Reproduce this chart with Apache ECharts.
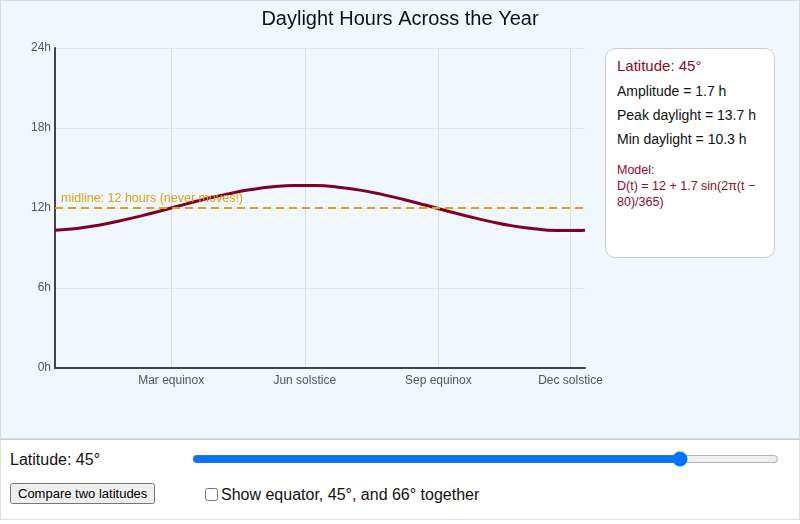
<!DOCTYPE html>
<html>
<head>
<meta charset="utf-8">
<script src="https://cdn.jsdelivr.net/npm/echarts@6/dist/echarts.min.js"></script>
<style>
    body { margin: 0; font-family: "Liberation Sans", Arial, sans-serif; background: #fff; }
    #box { position: relative; width: 800px; height: 439px; box-sizing: border-box; border: 1px solid #d6dbe2; background: #f0f7ff; }
    #chart { position: absolute; left: 0; top: 0; width: 798px; height: 437px; }
    #panel { position: absolute; left: 604px; top: 47px; width: 170px; height: 210px; box-sizing: border-box;
        background: #fff; border: 1px solid #ccc; border-radius: 10px; padding: 8px 12px 9px 11px; }
    #panel .lat { color: #8b0a2a; font-size: 15px; margin-bottom: 9px; }
    #panel .row { font-size: 14px; color: #111; margin-bottom: 8px; }
    #panel .model { color: #8b0a2a; font-size: 12.5px; line-height: 16px; margin-top: 15px; }
    #controls { width: 800px; height: 81px; box-sizing: border-box; border: 1px solid #ddd; border-top: 1px solid #ccc; position: relative; }
    #latlabel { position: absolute; left: 9px; top: 11px; font-size: 16px; color: #111; }
    #slider { position: absolute; left: 191px; top: 11px; width: 587px; margin: 0; }
    #cmp { position: absolute; left: 9px; top: 43px; font-size: 13px; padding: 1px 6px; }
    #chk { position: absolute; left: 204px; top: 46px; font-size: 16px; color: #111; }
    #chk input { margin: 0 3px 0 0; vertical-align: -1px; }
</style>
</head>
<body>
<div id="box">
    <div id="chart"></div>
    <div id="panel">
        <div class="lat">Latitude: 45°</div>
        <div class="row">Amplitude = 1.7 h</div>
        <div class="row">Peak daylight = 13.7 h</div>
        <div class="row">Min daylight = 10.3 h</div>
        <div class="model">Model:<br>D(t) = 12 + 1.7 sin(2π(t − 80)/365)</div>
    </div>
</div>
<div id="controls">
    <div id="latlabel">Latitude: 45°</div>
    <input id="slider" type="range" min="0" max="53.5" step="0.5" value="45">
    <button id="cmp">Compare two latitudes</button>
    <label id="chk"><input type="checkbox">Show equator, 45°, and 66° together</label>
</div>
<script>
    // day of year and daylight hours
    const days = [0, 15, 30, 45, 60, 75, 90, 105, 120, 135, 150, 165, 180, 195, 210, 225, 240, 255, 270, 285, 300, 315, 330, 345, 360, 365];
    const hours = [10.33, 10.47, 10.71, 11.04, 11.43, 11.85, 12.29, 12.71, 13.08, 13.38, 13.59, 13.69, 13.68, 13.56, 13.34, 13.02, 12.64, 12.22, 11.78, 11.36, 10.98, 10.66, 10.44, 10.32, 10.31, 10.33];
    const markDays = [80, 172, 264, 355];
    const markNames = ['Mar equinox', 'Jun solstice', 'Sep equinox', 'Dec solstice'];
    const midline = 12;

    const chart = echarts.init(document.getElementById('chart'));
    chart.setOption({
        animation: false,
        title: {
            text: 'Daylight Hours Across the Year',
            left: 'center',
            top: 3,
            textStyle: { fontSize: 20, fontWeight: 'normal', color: '#111', fontFamily: 'Liberation Sans' }
        },
        grid: { left: 54, right: 214, top: 47, bottom: 70 },
        xAxis: {
            type: 'value',
            min: 0,
            max: 365,
            axisLine: { lineStyle: { color: '#444', width: 2 } },
            axisTick: { show: false, customValues: markDays },
            axisLabel: {
                customValues: markDays,
                formatter: v => markNames[markDays.indexOf(v)],
                color: '#555', fontSize: 12, margin: 7, fontFamily: 'Liberation Sans'
            },
            splitLine: { show: true, lineStyle: { color: '#dadde2' } }
        },
        yAxis: {
            type: 'value',
            min: 0,
            max: 24,
            interval: 6,
            axisLine: { show: true, lineStyle: { color: '#444', width: 2 } },
            axisTick: { show: false },
            axisLabel: { formatter: '{value}h', color: '#555', fontSize: 12, margin: 4, fontFamily: 'Liberation Sans' },
            splitLine: { lineStyle: { color: '#e3e8ee' } }
        },
        series: [
            {
                type: 'line',
                data: [],
                z: 1,
                markLine: {
                    silent: true,
                    symbol: 'none',
                    lineStyle: { color: '#d9a40e', type: [8, 5], width: 2 },
                    label: {
                        position: 'insideStartTop',
                        formatter: 'midline: 12 hours (never moves!)',
                        color: '#d9a40e',
                        fontSize: 12.5,
                        distance: [6, 3],
                        fontFamily: 'Liberation Sans'
                    },
                    data: [{ yAxis: midline }]
                }
            },
            {
                type: 'line',
                z: 3,
                data: days.map((d, i) => [d, hours[i]]),
                smooth: true,
                showSymbol: false,
                lineStyle: { color: '#800022', width: 3 }
            }
        ]
    });
</script>
</body>
</html>
